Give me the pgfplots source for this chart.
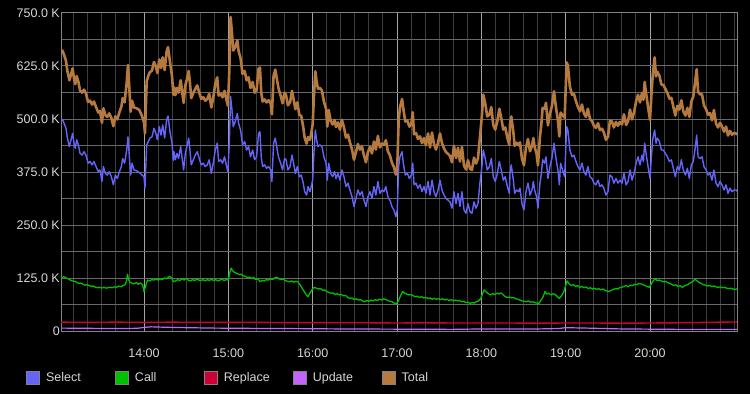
\documentclass[border=0pt]{standalone}
\usepackage{pgfplots}
\pgfplotsset{compat=1.18}
\usepackage{pgfplotstable}
\usepackage{fontspec}
\setmainfont{Liberation Sans}
\definecolor{selc}{RGB}{100,100,250}
\definecolor{callc}{RGB}{0,190,0}
\definecolor{repc}{RGB}{205,0,55}
\definecolor{updc}{RGB}{195,100,255}
\definecolor{totc}{RGB}{182,122,62}
\definecolor{lbl}{RGB}{215,215,215}
\definecolor{hgrid}{RGB}{105,105,105}
\definecolor{vminor}{RGB}{62,62,62}
\definecolor{vmajor}{RGB}{165,165,165}
\definecolor{border}{RGB}{130,130,130}

\pgfplotstableread{
m sel tot
1.0 500 662
2.1 498 660
3.1 490 651
4.5 478 637
5.5 455 613
6.9 435 591
8.1 451 605
9.2 466 619
10.2 443 595
11.1 431 582
12.1 451 601
13.3 439 588
14.5 419 567
15.9 415 562
17.3 423 569
18.7 415 560
20.2 396 540
21.6 400 543
23.0 392 534
24.4 400 541
25.9 388 528
27.5 376 515
28.7 380 519
30.1 353 491
31.1 388 525
32.5 372 509
33.9 368 505
35.3 376 513
36.8 364 502
38.2 345 483
39.6 368 506
41.0 360 499
42.5 376 516
43.9 388 529
44.8 407 549
46.2 396 539
47.7 427 586
48.6 458 627
49.6 411 570
50.5 368 517
51.5 396 543
52.9 380 527
54.8 378 525
56.7 374 521
58.6 368 507
60.0 364 492
60.7 337 466
61.9 439 588
63.1 447 602
64.2 455 610
65.7 458 614
67.1 478 634
68.5 466 623
69.5 451 608
70.9 482 640
72.1 462 620
73.3 486 645
74.7 455 615
76.1 498 659
77.1 507 669
78.5 470 634
79.9 443 602
80.9 403 557
81.3 423 575
82.3 404 556
83.5 419 573
84.6 407 562
86.1 435 591
87.0 411 568
88.2 380 538
89.4 419 578
90.8 439 597
91.8 455 613
92.7 427 585
93.6 392 549
95.1 404 561
96.5 415 571
97.9 423 579
99.3 407 562
100.8 392 547
102.2 396 551
103.6 388 543
105.0 392 547
106.4 404 559
107.9 372 527
109.3 396 551
110.7 427 582
112.1 443 598
113.1 400 555
114.5 404 559
115.9 396 551
117.3 411 566
118.8 388 543
119.7 376 531
120.7 443 612
121.6 553 740
122.6 521 702
123.5 482 661
124.9 494 669
126.4 513 685
127.3 490 660
128.7 474 643
130.1 439 606
131.6 447 613
133.0 427 591
134.4 435 598
135.8 411 573
137.3 427 587
138.7 404 562
140.1 411 567
141.5 466 618
142.5 470 621
143.4 411 563
144.4 388 541
145.8 392 546
147.2 384 539
148.6 388 544
150.1 380 537
151.0 353 511
152.2 443 602
153.4 455 616
154.8 427 589
155.7 411 572
157.2 396 555
158.6 380 537
160.0 407 562
161.0 405 557
162.4 380 532
163.9 388 539
165.3 415 566
166.2 400 551
167.7 372 523
169.1 388 539
170.5 364 510
171.9 368 507
173.3 349 481
174.3 329 456
175.7 321 442
176.7 341 457
178.1 329 451
179.0 341 467
180.0 356 487
180.9 419 553
181.9 474 612
182.8 451 588
183.8 435 571
185.2 439 573
186.6 435 567
188.0 411 541
189.5 396 524
190.4 356 482
191.4 396 521
192.8 372 496
194.2 364 487
195.6 376 498
196.6 360 481
198.0 372 492
199.4 356 475
200.8 380 498
202.3 364 480
203.7 341 456
205.1 349 463
206.5 333 445
208.0 317 428
209.4 294 404
210.8 313 422
212.2 333 441
213.6 321 428
215.1 329 435
216.5 309 414
217.9 294 398
219.3 317 422
220.8 329 434
222.2 313 419
223.6 341 447
225.0 321 428
226.4 353 460
227.9 325 433
229.3 333 442
230.7 329 439
232.1 341 450
233.5 317 424
235.0 309 414
236.4 294 397
237.8 286 387
239.2 270 369
240.2 286 388
241.2 388 497
242.1 411 527
243.6 423 547
244.5 396 524
245.9 368 494
247.4 372 496
248.8 360 482
250.2 368 489
251.2 396 516
252.1 345 464
253.5 349 467
254.9 337 453
256.4 345 459
257.8 329 443
259.2 341 455
260.6 325 438
262.1 353 466
263.5 321 433
264.9 356 468
266.3 329 441
267.7 317 428
269.2 333 444
270.6 356 466
272.0 333 443
273.4 321 431
274.9 313 422
276.3 309 418
277.7 305 413
279.1 290 398
280.5 329 437
282.0 301 408
283.4 325 432
284.8 294 400
286.2 329 434
287.7 286 390
289.1 278 381
290.5 301 403
291.9 282 383
293.3 278 380
294.8 305 409
296.2 290 395
297.6 301 407
299.0 349 457
300.4 388 508
301.4 427 557
302.8 407 536
304.2 380 506
305.7 388 510
307.1 407 528
308.5 364 486
309.9 353 475
311.4 372 495
312.8 400 524
314.2 380 502
315.6 356 475
317.0 364 480
318.5 341 456
319.9 325 439
320.4 372 486
321.3 392 506
322.8 356 469
323.7 325 437
325.1 333 444
326.5 329 438
327.5 337 445
328.9 301 407
330.3 286 391
331.8 329 433
333.2 349 453
334.6 321 424
336.0 333 436
337.0 353 455
337.9 333 435
339.3 317 418
340.3 290 391
341.7 349 458
342.7 372 488
343.6 404 526
345.0 396 524
346.0 411 538
347.4 360 485
348.8 388 512
350.2 407 530
351.7 443 565
353.1 407 527
354.5 380 497
355.5 345 459
356.4 396 515
357.8 380 509
359.3 364 503
360.7 482 633
361.6 474 626
363.0 427 576
364.5 411 557
365.9 415 559
367.3 400 542
368.7 388 528
370.2 380 518
371.6 396 534
373.0 376 513
374.4 368 505
375.8 388 524
377.3 364 500
378.7 360 495
380.1 349 484
381.5 345 479
383.0 356 490
384.4 341 474
385.8 345 477
387.2 337 468
388.6 321 451
390.1 329 458
391.5 368 496
392.9 364 494
394.3 349 480
395.8 360 493
397.2 349 484
398.6 356 493
400.1 349 487
401.5 372 511
403.0 345 486
404.4 353 495
405.8 380 522
407.2 356 499
408.7 372 516
410.1 396 541
411.5 411 557
412.9 392 539
414.3 415 561
415.3 400 545
416.2 443 587
417.2 419 561
418.6 388 528
420.0 360 498
421.0 411 555
421.9 451 601
423.3 474 645
424.3 443 600
425.2 455 611
426.7 447 602
428.1 427 581
429.5 427 580
430.9 419 571
432.4 411 561
433.8 400 548
435.2 404 550
436.6 384 529
438.0 364 508
439.5 388 531
440.9 380 522
442.3 404 544
443.7 380 518
445.2 368 508
446.6 384 526
448.0 360 505
449.4 392 541
450.8 400 553
452.3 435 592
453.2 462 617
454.2 411 564
455.6 407 558
457.0 411 558
458.4 388 532
459.9 380 523
461.3 368 510
462.7 372 514
464.1 356 497
465.5 380 521
467.0 349 489
468.4 341 480
469.8 353 491
471.2 345 483
472.7 333 470
474.1 345 482
475.5 325 461
476.9 337 472
478.3 329 463
479.8 333 467
481.2 333 466
482.0 330 463
}\seltot

\begin{document}
\begin{tikzpicture}[x=1pt,y=1pt]
\fill[black] (0,0) rectangle (750,394);
\begin{axis}[
  at={(61pt,62.5pt)}, anchor=south west,
  width=676pt, height=318.8pt, scale only axis,
  xmin=0.95, xmax=481.9, ymin=0, ymax=750,
  axis background/.style={fill=black},
  axis line style={draw=border, line width=1pt},
  xtick={60,120,180,240,300,360,420},
  xticklabels={14:00,15:00,16:00,17:00,18:00,19:00,20:00},
  minor xtick={10,20,...,480},
  ytick={0,125,250,375,500,625,750},
  yticklabels={0,125.0 K,250.0 K,375.0 K,500.0 K,625.0 K,750.0 K},
  minor ytick={62.5,187.5,312.5,437.5,562.5,687.5},
  grid=both,
  major x grid style={draw=vmajor, line width=0.9pt},
  minor x grid style={draw=vminor, line width=0.9pt},
  major y grid style={draw=hgrid, line width=0.9pt},
  minor y grid style={draw=hgrid, line width=0.9pt},
  major tick length=0pt, minor tick length=0pt,
  tick label style={font=\fontsize{12.5}{15}\selectfont, text=lbl},
  yticklabel style={inner sep=1pt},
  xticklabel style={yshift=-14pt},
  legend columns=5,
  legend style={at={(-0.0518,-0.1459)}, anchor=west, draw=none, fill=none,
    font=\fontsize{12.5}{15}\selectfont, text=lbl, inner xsep=0pt, inner ysep=0pt,
    nodes={inner sep=3pt},
    /tikz/every even column/.append style={column sep=0pt}},
  legend image code/.code={\path[draw=none, fill=none] (0pt,-1pt) rectangle (16.5pt,1pt);\draw[#1, line width=0.8pt, draw=border, fill] (0pt,-6.5pt) rectangle (13pt,6.5pt);},
]
\addplot[totc, line width=2.6pt, line join=round, forget plot] table[x=m, y=tot] {\seltot};
\addplot[selc, line width=1.4pt, line join=round, forget plot] table[x=m, y=sel] {\seltot};
\addplot[callc, line width=1.3pt, line join=round, forget plot] coordinates {
(1.0,128)(1.5,127)(3,129)(4.5,126)(6,124)(7.5,121)(9,119)(10.5,118)(12,116)(13.5,113)(15,114)(16.5,111)(18,109)(19.5,110)(21,108)(22.5,106)(24,107)(25.5,104)(27,103)(28.5,104)(30,102)(31.5,104)(33,102)(34.5,103)(36,104)(37.5,103)(39,105)(40.5,104)(42,107)(43.5,105)(45,108)(46.5,110)(47.5,118)(48.3,135)(49,122)(50,116)(51.5,113)(53,112)(54.5,115)(56,111)(57.5,114)(59,110)(60,94)(61,105)(62.5,121)(64,119)(65.5,122)(67,121)(68.5,123)(70,121)(71.5,124)(73,122)(74.5,126)(76,124)(77.5,128)(78.5,130)(80,124)(81,117)(82.5,119)(84,122)(85.5,120)(87,124)(88.5,121)(90,125)(91.5,121)(93,119)(94.5,122)(96,120)(97.5,123)(99,121)(100.5,120)(102,122)(103.5,119)(105,122)(106.5,120)(108,123)(109.5,120)(111,122)(112.5,119)(114,121)(115.5,123)(117,120)(118.5,122)(120,121)(121.3,142)(122,149)(123,143)(124.5,139)(126,137)(127.5,134)(129,135)(130.5,131)(132,130)(133.5,127)(135,128)(136.5,125)(138,127)(139.5,122)(141,124)(142.5,117)(144,120)(145.5,119)(147,122)(148.5,121)(150,124)(151.5,122)(153,126)(154.5,128)(156,124)(157.5,122)(159,123)(160.5,120)(162,118)(163.5,117)(165,119)(166.5,116)(168,118)(169.5,117)(171,110)(172.5,102)(174,94)(175.5,86)(176.7,82)(178,90)(179.5,98)(181,104)(182.5,102)(184,100)(185.5,101)(187,97)(188.5,98)(190,94)(191.5,92)(193,90)(194.5,91)(196,87)(197.5,89)(199,86)(200.5,87)(202,84)(203.5,85)(205,80)(206.5,78)(208,79)(209.5,75)(211,77)(212.5,74)(214,75)(215.5,72)(217,70)(218.5,73)(220,71)(221.5,74)(223,72)(224.5,75)(226,73)(227.5,76)(229,74)(230.5,77)(232,75)(233.5,73)(235,71)(236.5,70)(238,67)(239.5,65)(241,72)(242.5,84)(244,94)(245.5,90)(247,88)(248.5,86)(250,87)(251.5,84)(253,82)(254.5,83)(256,80)(257.5,82)(259,79)(260.5,80)(262,78)(263.5,79)(265,76)(266.5,78)(268,76)(269.5,77)(271,75)(272.5,77)(274,74)(275.5,76)(277,73)(278.5,75)(280,72)(281.5,74)(283,72)(284.5,73)(286,70)(287.5,71)(289,68)(290.5,69)(292,66)(293.5,68)(295,67)(296.5,70)(298,72)(299.5,77)(301,90)(302,98)(303.5,93)(305,89)(306.5,86)(308,89)(309.5,87)(311,90)(312.5,88)(314,91)(315.5,86)(317,82)(318.5,80)(320,81)(321.5,79)(323,80)(324.5,77)(326,76)(327.5,74)(329,72)(330.5,71)(332,70)(333.5,72)(335,69)(336.5,70)(338,68)(339.5,67)(341,66)(342.5,74)(344,82)(345.3,94)(346.5,88)(348,90)(349.5,86)(351,89)(352.5,87)(354,82)(355.5,78)(357,84)(358.5,92)(360,108)(361,119)(362.5,112)(364,108)(365.5,110)(367,106)(368.5,108)(370,104)(371.5,106)(373,103)(374.5,105)(376,101)(377.5,103)(379,100)(380.5,102)(382,99)(383.5,101)(385,98)(386.5,100)(388,97)(389.5,95)(391,94)(392.5,97)(394,99)(395.5,101)(397,100)(398.5,103)(400,104)(401.5,106)(403,108)(404.5,105)(406,109)(407.5,108)(409,111)(410.5,110)(412,113)(413.5,112)(415,110)(416.5,108)(418,106)(419.5,104)(420.5,110)(422,118)(423.6,124)(425,120)(426.5,121)(428,119)(429.5,117)(431,118)(432.5,115)(434,113)(435.5,111)(437,108)(438.5,110)(440,106)(441.5,108)(443,104)(444.5,107)(446,109)(447.5,112)(449,115)(450.5,118)(452,123)(453.5,119)(455,115)(456.5,113)(458,110)(459.5,109)(461,107)(462.5,108)(464,106)(465.5,107)(467,105)(468.5,104)(470,105)(471.5,103)(473,104)(474.5,102)(476,101)(477.5,102)(479,100)(480.5,99)(481.9,100)
};
\addplot[repc, line width=1.4pt, forget plot] coordinates {
(1,22)(20,21.5)(40,22)(60,21.5)(80,22)(100,21.5)(120,21.5)(140,21.5)(160,21)(180,21)(200,20.5)(220,20.5)(240,20)(260,20.5)(280,20)(300,20)(320,20)(340,19.5)(360,20)(380,20)(400,19.5)(420,20)(440,20.5)(460,21.5)(482,22.5)
};
\addplot[updc, line width=1.2pt, forget plot] coordinates {
(1,8)(20,7.5)(40,7)(55,7.5)(60,9.5)(65,11)(75,10)(90,9)(110,8)(130,7.5)(160,7)(200,6)(240,5.5)(280,5)(300,6)(340,6)(355,7)(360,9)(375,8)(400,6)(440,5)(482,5)
};
\addlegendimage{selc}
\addlegendentry{\makebox[66pt][l]{Select}}
\addlegendimage{callc}
\addlegendentry{\makebox[66pt][l]{Call}}
\addlegendimage{repc}
\addlegendentry{\makebox[66pt][l]{Replace}}
\addlegendimage{updc}
\addlegendentry{\makebox[66pt][l]{Update}}
\addlegendimage{totc}
\addlegendentry{\makebox[66pt][l]{Total}}
\end{axis}
\end{tikzpicture}
\end{document}
